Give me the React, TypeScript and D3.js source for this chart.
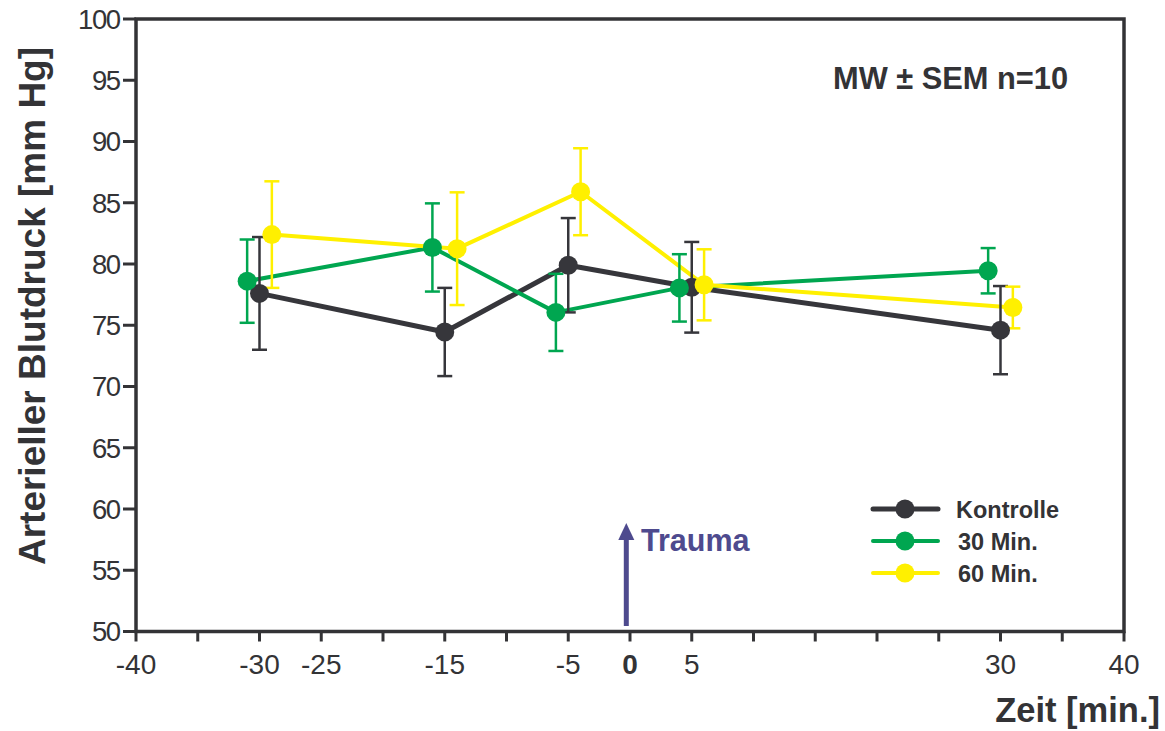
import React from "react";
import * as d3 from "d3";

const timesKontrolle = [-30, -15, -5, 5, 30];
const meanKontrolle = [77.6, 74.45, 79.9, 78.1, 74.6];
const semKontrolle = [4.6, 3.6, 3.85, 3.7, 3.6];

const times30 = [-31, -16, -6, 4, 29];
const mean30 = [78.6, 81.35, 76.05, 78.05, 79.45];
const sem30 = [3.4, 3.6, 3.15, 2.75, 1.85];

const times60 = [-29, -14, -4, 6, 31];
const mean60 = [82.4, 81.25, 85.9, 78.3, 76.45];
const sem60 = [4.35, 4.6, 3.55, 2.9, 1.7];

const xTicks = d3.range(-40, 41, 5);
const xTickLabels = [-40, -30, -25, -15, -5, 0, 5, 30, 40];
const yTicks = d3.range(50, 101, 5);

const FONT = "'Liberation Sans', Arial, Helvetica, sans-serif";
const TEXT = "#333336";

export default function App() {
  const W = 1165;
  const H = 731;
  const x = d3.scaleLinear().domain([-40, 40]).range([136, 1124]);
  const y = d3.scaleLinear().domain([50, 100]).range([631.5, 19]);

  const series = [
    { name: "Kontrolle", t: timesKontrolle, m: meanKontrolle, s: semKontrolle, color: "#36363b", lw: 5 },
    { name: "30 Min.", t: times30, m: mean30, s: sem30, color: "#00a650", lw: 4 },
    { name: "60 Min.", t: times60, m: mean60, s: sem60, color: "#fff000", lw: 4 },
  ];

  const line = d3
    .line<[number, number]>()
    .x((d) => x(d[0]))
    .y((d) => y(d[1]));

  return (
    <svg
      width={W}
      height={H}
      style={{ position: "absolute", left: 0, top: 0, background: "#fff" }}
      fontFamily={FONT}
    >
      {/* frame */}
      <rect x={x(-40)} y={y(100)} width={x(40) - x(-40)} height={y(50) - y(100)} fill="none" stroke={TEXT} strokeWidth={3.5} />

      {/* y ticks */}
      {yTicks.map((v) => (
        <g key={"y" + v}>
          <line x1={123} x2={x(-40)} y1={y(v)} y2={y(v)} stroke={TEXT} strokeWidth={3} />
          <text x={119.5} y={y(v)} dy="0.36em" textAnchor="end" fontSize={27.5} fill={TEXT} letterSpacing={-1.5}>
            {v}
          </text>
        </g>
      ))}

      {/* x ticks */}
      {xTicks.map((v) => (
        <line key={"x" + v} x1={x(v)} x2={x(v)} y1={y(50)} y2={y(50) + 10} stroke={TEXT} strokeWidth={3} />
      ))}
      {xTickLabels.map((v) => (
        <text
          key={"xl" + v}
          x={x(v)}
          y={674}
          textAnchor="middle"
          fontSize={28}
          fontWeight={v === 0 ? "bold" : "normal"}
          fill={TEXT}
        >
          {v}
        </text>
      ))}

      {/* axis titles */}
      <text
        transform="translate(45, 306) rotate(-90)"
        textAnchor="middle"
        fontSize={37}
        fontWeight="bold"
        fill={TEXT}
      >
        Arterieller Blutdruck [mm Hg]
      </text>
      <text x={1160} y={722} textAnchor="end" fontSize={34.5} fontWeight="bold" fill={TEXT}>
        Zeit [min.]
      </text>

      {/* annotation */}
      <text x={833} y={89} fontSize={30.8} fontWeight="bold" fill={TEXT}>
        MW ± SEM n=10
      </text>

      {/* Trauma arrow */}
      <line x1={x(-0.3)} x2={x(-0.3)} y1={626} y2={538} stroke="#4e4a8e" strokeWidth={5} />
      <path
        d={`M${x(-0.3) - 8},${540} L${x(-0.3)},${523} L${x(-0.3) + 8},${540} Z`}
        fill="#4e4a8e"
      />
      <text x={641} y={551} fontSize={30.5} fontWeight="bold" fill="#4e4a8e">
        Trauma
      </text>

      {/* lines */}
      {series.map((s) => (
        <path
          key={"l" + s.name}
          d={line(s.t.map((t, i) => [t, s.m[i]] as [number, number])) || ""}
          fill="none"
          stroke={s.color}
          strokeWidth={s.lw}
          strokeLinejoin="round"
        />
      ))}

      {/* error bars */}
      {series.map((s) =>
        s.t.map((t, i) => {
          const cx = x(t);
          const y1 = y(s.m[i] + s.s[i]);
          const y2 = y(s.m[i] - s.s[i]);
          return (
            <g key={"e" + s.name + i} stroke={s.color} strokeWidth={2.5}>
              <line x1={cx} x2={cx} y1={y1} y2={y2} />
              <line x1={cx - 7.5} x2={cx + 7.5} y1={y1} y2={y1} />
              <line x1={cx - 7.5} x2={cx + 7.5} y1={y2} y2={y2} />
            </g>
          );
        })
      )}

      {/* markers */}
      {series.map((s) =>
        s.t.map((t, i) => (
          <circle key={"c" + s.name + i} cx={x(t)} cy={y(s.m[i])} r={9.5} fill={s.color} />
        ))
      )}

      {/* legend */}
      {series.map((s, i) => {
        const ly = 509 + i * 32;
        return (
          <g key={"lg" + s.name}>
            <line x1={873} x2={938} y1={ly} y2={ly} stroke={s.color} strokeWidth={s.lw} strokeLinecap="round" />
            <circle cx={905} cy={ly} r={9.5} fill={s.color} />
            <text x={i === 0 ? 956 : 958} y={ly + 9} fontSize={23.5} fontWeight="bold" fill={TEXT}>
              {s.name}
            </text>
          </g>
        );
      })}
    </svg>
  );
}
